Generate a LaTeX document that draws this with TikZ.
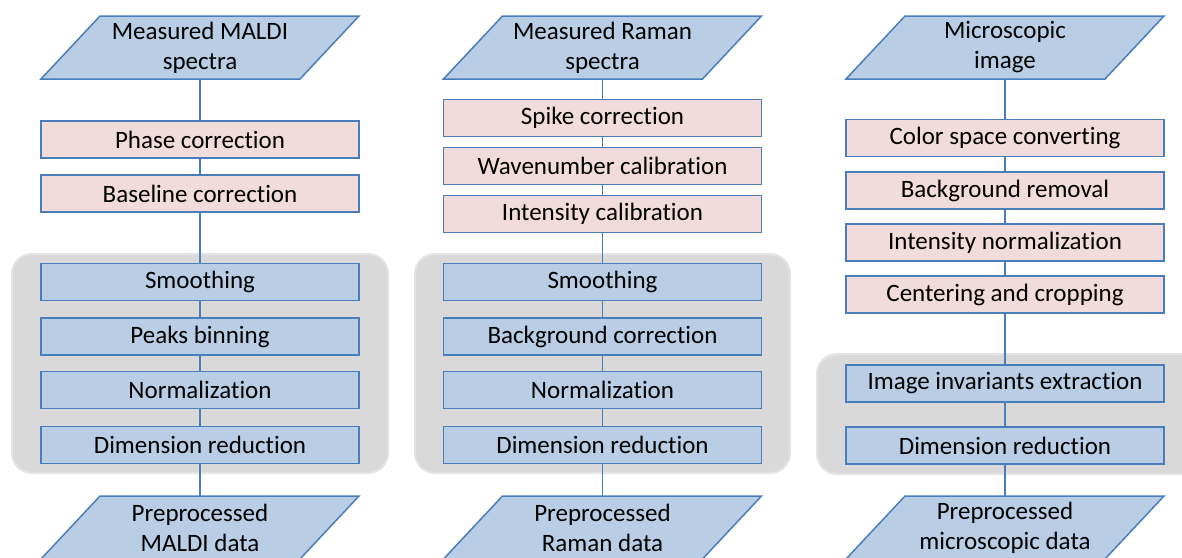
\documentclass[tikz,border=0pt]{standalone}
\usepackage{fontspec}
\setmainfont{Carlito}[Ligatures=NoCommon]
\definecolor{bfill}{HTML}{B9CDE5}
\definecolor{bline}{HTML}{4A7EBB}
\definecolor{pfill}{HTML}{F2DCDB}
\definecolor{gpanel}{HTML}{D9D9D9}
\definecolor{gedge}{HTML}{E4E4E4}
\newcommand\myparashape[2]{%
  \filldraw[fill=bfill,draw=bline,line width=1.5pt,line join=miter]
    ({#1-159},{#2+31.5}) -- ({#1-100},{#2-31.5}) -- ({#1+159},{#2-31.5}) -- ({#1+100},{#2+31.5}) -- cycle;}
\begin{document}
\begin{tikzpicture}[x=1pt,y=-1pt,
  box/.style={draw=bline, line width=1.5pt, minimum width=318pt, minimum height=37pt, inner sep=0pt, font=\fontsize{25}{30}\selectfont},
  pbox/.style={box, fill=pfill},
  bbox/.style={box, fill=bfill},
  paratext/.style={align=center, inner sep=0pt, minimum width=259pt, minimum height=63pt, font=\fontsize{25}{30}\selectfont},
  conn/.style={draw=bline, line width=1.5pt},
  panel/.style={fill=gpanel, draw=gedge, line width=2pt, rounded corners=20pt}]
\clip (0,0) rectangle (1182,557);
\fill[white] (0,0) rectangle (1182,557);
% panels
\draw[panel] (12,254) rectangle (388,473);
\draw[panel] (415,254) rectangle (790,473);
\draw[panel] (817,354) rectangle (1210,474);
% parallelogram shapes
\myparashape{200}{47.5}
\myparashape{602.5}{47.5}
\myparashape{1005}{47.5}
\myparashape{200}{527.5}
\myparashape{602.5}{527.5}
\myparashape{1005}{527.5}
% column 1
\node[paratext] (a0) at (200,47.5) {Measured MALDI\\spectra};
\node[pbox] (a1) at (200,139.5) {Phase correction};
\node[pbox] (a2) at (200,193.5) {Baseline correction};
\node[bbox] (a3) at (200,282) {Smoothing};
\node[bbox] (a4) at (200,336.5) {Peaks binning};
\node[bbox] (a5) at (200,390) {Normalization};
\node[bbox] (a6) at (200,445) {Dimension reduction};
\node[paratext] (a7) at (200,527.5) {Preprocessed\\MALDI data};
% column 2
\node[paratext] (b0) at (602.5,47.5) {Measured Raman\\spectra};
\node[pbox] (b1) at (602.5,118) {Spike correction};
\node[pbox] (b2) at (602.5,166) {Wavenumber calibration};
\node[pbox] (b3) at (602.5,214) {Intensity calibration};
\node[bbox] (b4) at (602.5,282) {Smoothing};
\node[bbox] (b5) at (602.5,336.5) {Background correction};
\node[bbox] (b6) at (602.5,390) {Normalization};
\node[bbox] (b7) at (602.5,445) {Dimension reduction};
\node[paratext] (b8) at (602.5,527.5) {Preprocessed\\Raman data};
% column 3
\node[paratext] (c0) at (1005,47.5) {Microscopic\\image};
\node[pbox] (c1) at (1005,138) {Color space converting};
\node[pbox] (c2) at (1005,190.5) {Background removal};
\node[pbox] (c3) at (1005,242.5) {Intensity normalization};
\node[pbox] (c4) at (1005,294.5) {Centering and cropping};
\node[bbox] (c5) at (1005,383.5) {Image invariants extraction};
\node[bbox] (c6) at (1005,445.5) {Dimension reduction};
\node[paratext] (c7) at (1005,527.5) {Preprocessed\\microscopic data};
% connectors
\foreach \u/\v in {a0/a1,a1/a2,a2/a3,a3/a4,a4/a5,a5/a6,a6/a7,
  b0/b1,b1/b2,b2/b3,b3/b4,b4/b5,b5/b6,b6/b7,b7/b8,
  c0/c1,c1/c2,c2/c3,c3/c4,c4/c5,c5/c6,c6/c7}
  \draw[conn] (\u.south) -- (\v.north);
\end{tikzpicture}
\end{document}
